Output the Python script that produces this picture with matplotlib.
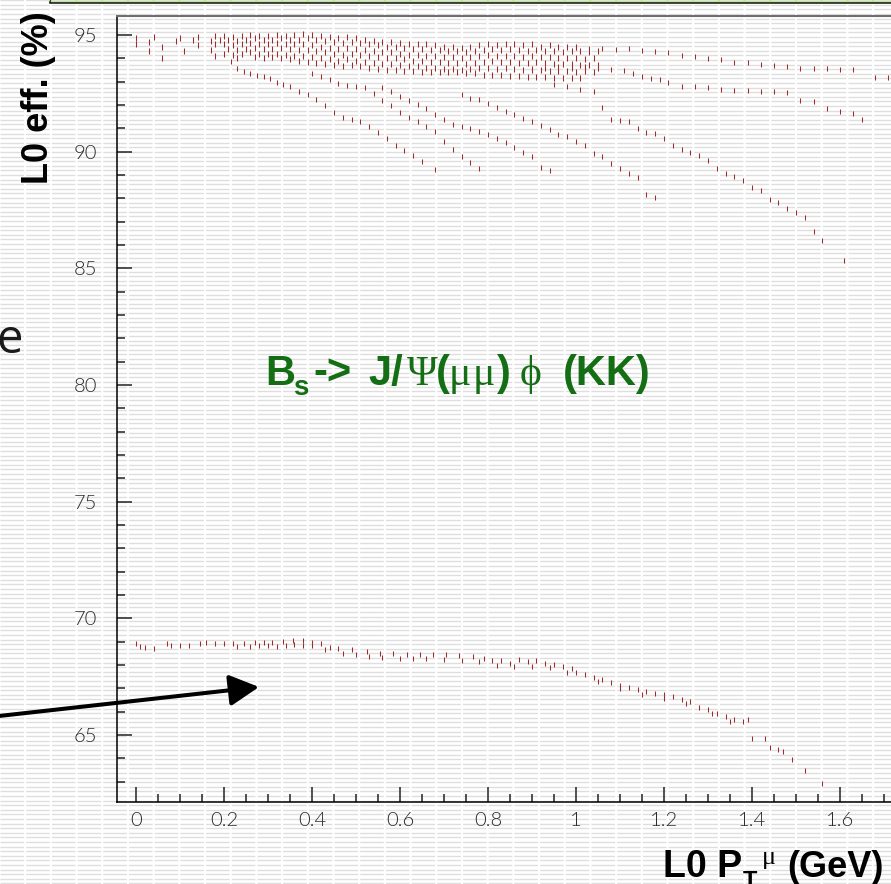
import matplotlib
matplotlib.use('Agg')
import matplotlib.pyplot as plt
from matplotlib.patches import Rectangle, FancyArrowPatch
from matplotlib.ticker import MultipleLocator, FuncFormatter
import numpy as np

# L0 efficiency vs L0 muon pT threshold, Bs -> J/psi phi sample

# Columns of the dense upper band (two interleaved grids)
band_x_even = [0.00, 0.02, 0.04, 0.06, 0.08, 0.10, 0.12, 0.14, 0.16, 0.18,
               0.20, 0.22, 0.24, 0.26, 0.28, 0.30, 0.32, 0.34, 0.36, 0.38,
               0.40, 0.42, 0.44, 0.46, 0.48, 0.50, 0.52, 0.54, 0.56, 0.58,
               0.60, 0.62, 0.64, 0.66, 0.68, 0.70, 0.72, 0.74, 0.76, 0.78,
               0.80, 0.82, 0.84, 0.86, 0.88, 0.90, 0.92, 0.94, 0.96, 0.98,
               1.00, 1.02, 1.04]
band_x_odd = [0.01, 0.03, 0.05, 0.07, 0.09, 0.11, 0.13, 0.15, 0.17, 0.19,
              0.21, 0.23, 0.25, 0.27, 0.29, 0.31, 0.33, 0.35, 0.37, 0.39,
              0.41, 0.43, 0.45, 0.47, 0.49, 0.51, 0.53, 0.55, 0.57, 0.59,
              0.61, 0.63, 0.65, 0.67, 0.69, 0.71, 0.73, 0.75, 0.77, 0.79,
              0.81, 0.83, 0.85, 0.87, 0.89, 0.91, 0.93, 0.95, 0.97, 0.99,
              1.01, 1.03, 1.05]

band_r1 = [94.85, None, 94.9, None, None, 94.85, None, 94.9, None, 94.95,
           94.95, 94.9, 94.95, 95.0, 94.95, 94.95, 95.0, 94.95, 95.0, 95.05,
           95.0, 94.95, 94.9, 94.85, 94.9, 94.85, 94.8, 94.75, 94.7, 94.7,
           94.65, 94.6, 94.6, 94.6, 94.55, 94.5, 94.5, 94.45, 94.5, 94.55,
           94.6, 94.55, 94.6, 94.6, 94.55, 94.6, 94.5, 94.55, 94.5, 94.5,
           94.5, None, None]
band_r2 = [None, 94.7, None, None, 94.75, None, 94.8, None, 94.75, 94.8,
           94.8, 94.75, 94.8, 94.85, 94.8, 94.8, 94.85, 94.8, 94.8, 94.85,
           94.8, 94.75, 94.7, 94.65, 94.7, 94.65, 94.6, 94.55, 94.5, 94.5,
           94.45, 94.4, 94.4, 94.35, 94.35, 94.3, 94.3, 94.25, 94.3, 94.35,
           94.4, 94.35, 94.4, 94.35, 94.3, 94.35, 94.3, 94.3, 94.25, 94.3,
           94.3, 94.25, 94.3]
band_r3 = [94.6, None, None, 94.5, None, None, None, 94.55, None, 94.6,
           94.6, 94.55, 94.6, 94.65, 94.6, 94.6, 94.65, 94.6, 94.6, 94.6,
           94.55, 94.5, 94.45, 94.4, 94.45, 94.4, 94.35, 94.3, 94.25, 94.25,
           94.2, 94.15, 94.15, 94.1, 94.1, 94.05, 94.05, 94.0, 94.05, 94.1,
           94.15, 94.1, 94.1, 94.1, 94.05, 94.1, 94.05, 94.05, 94.0, 94.0,
           94.0, 93.95, 94.0]
band_r4 = [None, 94.3, None, None, None, 94.3, None, None, 94.35, None,
           94.4, 94.35, 94.4, 94.45, 94.4, 94.4, 94.45, 94.4, 94.35, 94.35,
           94.3, 94.25, 94.2, 94.15, 94.2, 94.15, 94.1, 94.05, 94.0, 94.0,
           93.95, 93.9, 93.9, 93.85, 93.85, 93.8, 93.8, 93.75, 93.8, 93.85,
           93.9, 93.85, 93.85, 93.8, 93.8, 93.85, 93.8, 93.75, 93.75, 93.75,
           93.7, 93.7, 93.7]
band_r5 = [None, None, None, 94.0, None, None, None, None, None, 94.1,
           94.2, 94.15, 94.2, 94.25, 94.2, 94.2, 94.2, 94.15, 94.1, 94.1,
           94.05, 94.0, 93.95, 93.9, 93.95, 93.9, 93.85, 93.8, 93.75, 93.75,
           93.7, 93.65, 93.65, 93.6, 93.6, 93.55, 93.55, 93.5, 93.55, 93.6,
           93.6, 93.55, 93.6, 93.55, 93.5, 93.55, 93.5, 93.45, 93.45, 93.45,
           93.4, 93.45, 93.4]
band_r6 = [None, None, None, None, None, None, None, None, None, None,
           None, 94.0, None, 94.05, 94.0, 94.05, 94.0, 93.95, 93.9, 93.85,
           93.8, 93.75, 93.7, 93.65, 93.7, 93.65, 93.6, 93.55, 93.5, 93.5,
           93.45, 93.45, 93.4, 93.4, 93.4, 93.4, 93.4, 93.35, 93.35, 93.3,
           93.3, 93.3, 93.25, 93.25, 93.2, 93.2, 93.2, 93.15, 93.15, 93.15,
           93.15, None, None]

# Branches fanning out of the upper band
top_x = [1.00, 1.03, 1.06, 1.09, 1.12, 1.15, 1.18, 1.21, 1.24, 1.27, 1.30, 1.33,
         1.36, 1.39, 1.42, 1.45, 1.48, 1.51, 1.54, 1.57, 1.60, 1.63, 1.68, 1.71]
top_y = [94.5, 94.45, 94.45, 94.4, 94.45, 94.35, 94.3, 94.25, 94.15, 94.1, 94.0, 93.95,
         93.85, 93.85, 93.75, 93.7, 93.65, 93.6, 93.6, 93.6, 93.55, 93.55, 93.2, 93.2]

fan_a_x = [0.215, 0.23, 0.245, 0.26, 0.275, 0.29, 0.305, 0.32, 0.335, 0.35, 0.37, 0.39, 0.41,
           0.43, 0.45, 0.47, 0.49, 0.51, 0.53, 0.55, 0.57, 0.59, 0.61, 0.63, 0.65, 0.68]
fan_a_y = [93.9, 93.6, 93.45, 93.35, 93.3, 93.25, 93.15, 93.0, 92.9, 92.8, 92.6, 92.45, 92.25,
           92.0, 91.7, 91.5, 91.4, 91.3, 91.1, 90.85, 90.6, 90.3, 90.05, 89.85, 89.6, 89.25]

fan_b_x = [0.40, 0.42, 0.44, 0.46, 0.48, 0.50, 0.52, 0.54, 0.56, 0.58,
           0.60, 0.62, 0.64, 0.66, 0.68, 0.70, 0.72, 0.74, 0.76, 0.78]
fan_b_y = [93.35, 93.25, 93.1, 92.95, 92.85, 92.8, 92.75, 92.5, 92.2, 92.0,
           91.7, 91.5, 91.3, 91.1, 90.9, 90.45, 90.1, 89.8, 89.55, 89.3]

fan_c_x = [0.56, 0.58, 0.60, 0.62, 0.64, 0.66, 0.68, 0.70, 0.72, 0.74,
           0.76, 0.78, 0.80, 0.82, 0.84, 0.86, 0.88, 0.90, 0.92, 0.94]
fan_c_y = [92.75, 92.6, 92.4, 92.2, 92.05, 91.85, 91.6, 91.4, 91.2, 91.1,
           91.0, 90.9, 90.75, 90.6, 90.4, 90.2, 90.0, 89.8, 89.35, 89.2]

fan_d_x = [0.74, 0.76, 0.78, 0.80, 0.82, 0.84, 0.86, 0.88, 0.90, 0.92, 0.94, 0.96,
           0.98, 1.00, 1.02, 1.04, 1.06, 1.08, 1.10, 1.12, 1.14, 1.16, 1.18]
fan_d_y = [92.45, 92.3, 92.25, 92.1, 91.9, 91.75, 91.6, 91.45, 91.3, 91.15, 90.95, 90.75,
           90.65, 90.45, 90.3, 89.95, 89.8, 89.5, 89.3, 89.1, 88.9, 88.2, 88.05]

fan_e_x = [0.95, 0.98, 1.01, 1.04, 1.06, 1.08, 1.10, 1.12, 1.14, 1.16, 1.18, 1.20,
           1.22, 1.24, 1.26, 1.28, 1.30, 1.32, 1.34, 1.36, 1.38, 1.40, 1.42, 1.44,
           1.46, 1.48, 1.50, 1.52, 1.54, 1.56, 1.61]
fan_e_y = [92.9, 92.8, 92.7, 92.6, 91.9, 91.4, 91.35, 91.3, 91.0, 90.85, 90.8, 90.6,
           90.3, 90.1, 90.0, 89.85, 89.65, 89.3, 89.1, 88.95, 88.8, 88.5, 88.35, 87.95,
           87.85, 87.6, 87.4, 87.2, 86.6, 86.2, 85.36]

fan_f_x = [0.90, 0.93, 0.96, 0.99, 1.02, 1.05, 1.08, 1.11, 1.13, 1.15, 1.17, 1.19, 1.21, 1.24,
           1.27, 1.30, 1.33, 1.36, 1.39, 1.42, 1.45, 1.48, 1.51, 1.54, 1.57, 1.60, 1.63, 1.65]
fan_f_y = [93.5, 93.6, 93.65, 93.6, 93.65, 93.6, 93.55, 93.5, 93.35, 93.25, 93.15, 93.1, 93.0, 92.8,
           92.8, 92.75, 92.7, 92.65, 92.65, 92.6, 92.6, 92.55, 92.2, 92.15, 91.85, 91.75, 91.65, 91.4]

# Lower band
low_x = [0.00, 0.01, 0.02, 0.04, 0.07, 0.08, 0.10, 0.12, 0.145, 0.16, 0.18, 0.20,
         0.22, 0.245, 0.27, 0.29, 0.31, 0.335, 0.357, 0.38, 0.40, 0.42, 0.44, 0.46,
         0.49, 0.525, 0.555, 0.585, 0.615, 0.645, 0.675, 0.705, 0.735, 0.765, 0.79, 0.81,
         0.83, 0.85, 0.87, 0.89, 0.91, 0.93, 0.95, 0.97, 0.99, 1.00, 1.02, 1.04,
         1.06, 1.08, 1.10, 1.12, 1.14, 1.16, 1.18, 1.20, 1.22, 1.24, 1.26, 1.28,
         1.30, 1.32, 1.34, 1.36, 1.38, 1.39, 1.40, 1.43, 1.44, 1.46, 1.47, 1.49,
         1.52, 1.56]
low_y = [68.94, 68.81, 68.77, 68.73, 68.94, 68.85, 68.85, 68.85, 68.94, 68.98, 68.94, 68.94,
         68.94, 68.94, 68.98, 68.98, 69.0, 69.03, 69.05, 69.05, 69.0, 68.94, 68.77, 68.73,
         68.68, 68.6, 68.51, 68.51, 68.47, 68.47, 68.45, 68.45, 68.42, 68.38, 68.3, 68.2,
         68.2, 68.1, 68.25, 68.15, 68.2, 68.1, 68.05, 67.95, 67.85, 67.7, 67.6, 67.5,
         67.4, 67.25, 67.15, 67.05, 66.95, 66.9, 66.8, 66.75, 66.65, 66.55, 66.45, 66.2,
         66.1, 65.95, 65.8, 65.7, 65.6, 65.7, 64.87, 64.87, 64.5, 64.4, 64.3, 63.97,
         63.5, 62.94]
low2_x = [0.23, 0.26, 0.28, 0.30, 0.32, 0.34, 0.36, 0.38, 0.40, 0.43, 0.47, 0.50, 0.53, 0.56,
          0.60, 0.63, 0.66, 0.70, 0.74, 0.78, 0.82, 0.86, 0.90, 0.94, 0.98, 1.05, 1.10, 1.15,
          1.20, 1.25, 1.31, 1.35]
low2_y = [68.8, 68.8, 68.85, 68.85, 68.8, 68.85, 68.9, 68.85, 68.85, 68.7, 68.5, 68.45, 68.4, 68.35,
          68.3, 68.3, 68.3, 68.25, 68.2, 68.15, 68.0, 67.95, 67.95, 67.9, 67.7, 67.3, 67.0, 66.75,
          66.6, 66.35, 65.95, 65.6]

W, H = 891, 884
DOT = '#9e2b2b'
GREEN = '#146e14'


def fig_xy(x, y):
    # pixel position (from top left) -> figure fraction
    return x / W, 1 - y / H


plt.rcParams['font.family'] = ['Lato', 'DejaVu Sans']
plt.rcParams['font.weight'] = 300

fig = plt.figure(figsize=(W / 100, H / 100), dpi=100)
fig.patch.set_facecolor('white')

# Striped slide background
bg = fig.add_axes([0, 0, 1, 1], zorder=0)
bg.set_xlim(0, W)
bg.set_ylim(H, 0)
bg.axis('off')
bg.hlines(np.arange(0.2, H, 4.6), 0, W, color='#dedede', lw=1.0,
          linestyles=[(0, (17, 1.5))])
bg.add_patch(Rectangle((50, -30), 900, 32.5, facecolor='#b8e986', edgecolor='#111111', lw=1.1))
bg.add_patch(Rectangle((371, 846), 209, 40, facecolor='white', edgecolor='none'))

# Main plot, right edge runs off the slide
ax = fig.add_axes([117 / W, 82 / H, (1000 - 117) / W, (802 - 16) / H], zorder=2)
ax.patch.set_alpha(0)
ax.set_xlim(-0.04318, 1.96364)
ax.set_ylim(62.124, 95.814)

mk = dict(ls='none', marker='|', ms=3.6, mew=0.75, color=DOT)
mk_band = dict(mk, ms=4.4)
for row in [band_r1, band_r3, band_r5]:
    ax.plot(band_x_even, np.array(row, dtype=float), **mk_band)
for row in [band_r2, band_r4, band_r6]:
    ax.plot(band_x_odd, np.array(row, dtype=float), **mk_band)
for bx, by in [(top_x, top_y), (fan_a_x, fan_a_y), (fan_b_x, fan_b_y), (fan_c_x, fan_c_y),
               (fan_d_x, fan_d_y), (fan_e_x, fan_e_y), (fan_f_x, fan_f_y)]:
    ax.plot(bx, by, **mk)
ax.plot(low_x, low_y, **mk)
ax.plot(low2_x, low2_y, **mk)

ax.xaxis.set_major_locator(MultipleLocator(0.2))
ax.xaxis.set_minor_locator(MultipleLocator(0.05))
ax.yaxis.set_major_locator(MultipleLocator(5))
ax.yaxis.set_minor_locator(MultipleLocator(1))
ax.xaxis.set_major_formatter(FuncFormatter(lambda v, p: '%g' % round(v, 2)))
ax.yaxis.set_major_formatter(FuncFormatter(lambda v, p: '%g' % v))
ax.tick_params(which='both', direction='in', color='#222222', width=1.1)
ax.tick_params(which='major', length=10.8, labelsize=14.5, labelcolor='#2a2a2a')
ax.tick_params(which='minor', length=5.8)
ax.tick_params(axis='y', which='major', pad=14)
ax.tick_params(axis='x', which='major', pad=7)
ax.spines['top'].set_color('#6e6e6e')
ax.spines['top'].set_linewidth(1.5)
ax.spines['left'].set_linewidth(1.1)
ax.spines['bottom'].set_linewidth(1.1)

# Axis titles
sans_b = dict(family=['Liberation Sans', 'DejaVu Sans'], weight='bold')
serif = dict(family=['Liberation Serif', 'DejaVu Serif'], weight='normal')

fig.text(*fig_xy(38, 98), 'L0 eff. (%)', rotation=90, ha='center', va='center',
         fontsize=26, color='black', **sans_b)

for s, x, y, size, font in [('L0 P', 663, 877, 27, sans_b), ('T', 743, 888, 17, sans_b),
                            ('\u03bc', 762, 864, 19, serif), ('(GeV)', 787, 877, 26, sans_b)]:
    fig.text(*fig_xy(x, y), s, ha='left', va='baseline', fontsize=size, color='black', **font)

# Decay label
for s, x, y, size, font in [('B', 265, 385, 30, sans_b), ('s', 293, 395, 20, sans_b),
                            ('->', 313, 385, 30, sans_b), ('J/', 368, 385, 30, sans_b),
                            ('\u03a8', 407, 385, 30, serif), ('(', 436, 385, 30, sans_b),
                            ('\u03bc', 449, 385, 30, serif), ('\u03bc', 473, 385, 30, serif),
                            (')', 497, 385, 30, sans_b),
                            ('\u03d5', 520, 385, 30, serif), ('(KK)', 563, 385, 30, sans_b)]:
    fig.text(*fig_xy(x, y), s, ha='left', va='baseline', fontsize=size, color=GREEN, **font)

# Slide leftovers: cut word and arrow
fig.text(*fig_xy(-4, 353), 'e', ha='left', va='baseline', fontsize=34, color='#1a1a1a',
         family=['Open Sans', 'DejaVu Sans'], weight='normal')

arrow = FancyArrowPatch(fig_xy(-10, 717), fig_xy(259, 687), transform=fig.transFigure,
                        arrowstyle='-|>,head_length=18,head_width=9.5', mutation_scale=1,
                        lw=2.9, color='black', shrinkA=0, shrinkB=0, zorder=5)
fig.add_artist(arrow)

fig.savefig('out.png', dpi=100)
